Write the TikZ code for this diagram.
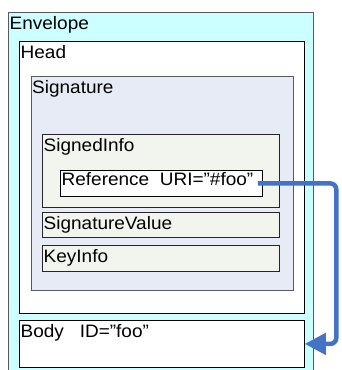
\documentclass[tikz,border=0pt]{standalone}
\usepackage{fontspec}
\setmainfont{Liberation Sans}[FakeStretch=1.055]
\usetikzlibrary{arrows.meta}

\definecolor{envcyan}{HTML}{CCFFFF}
\definecolor{siglav}{HTML}{E6EBF5}
\definecolor{infogray}{HTML}{F2F4EE}
\definecolor{linkblue}{HTML}{4472C4}

\tikzset{
  box/.style={draw, line width=0.8pt, anchor=north west, inner sep=0pt},
  lbl/.style={anchor=north west, inner xsep=1.5pt, inner ysep=4pt, text height=13pt,
    font=\fontsize{18}{21}\selectfont},
  link/.style={linkblue, line width=4.5pt, rounded corners=6pt,
    -{Triangle[width=21pt,length=21pt]}}
}

\begin{document}
\begin{tikzpicture}[x=1pt, y=-1pt]
  \useasboundingbox (0,0) rectangle (341,370);
  \node[box, draw=black!65, fill=envcyan, minimum width=305pt, minimum height=362pt,
    label={[lbl]north west:Envelope}] (envelope) at (8,12) {};
  \node[box, fill=white, minimum width=285pt, minimum height=272pt,
    label={[lbl]north west:Head}] (head) at (19,41) {};
  \node[box, draw=black!65, fill=siglav, minimum width=262.5pt, minimum height=214pt,
    label={[lbl]north west:Signature}] (signature) at (30.5,76) {};
  \node[box, draw=black!85, fill=infogray, minimum width=237pt, minimum height=73pt,
    label={[lbl]north west:SignedInfo}] (signedinfo) at (42,134) {};
  \node[box, fill=white, minimum width=202pt, minimum height=26pt,
    label={[lbl, inner ysep=2.5pt]north west:Reference\ \ URI=”\#foo”}] (ref) at (60,170) {};
  \node[box, draw=black!85, fill=infogray, minimum width=237pt, minimum height=25pt,
    label={[lbl]north west:SignatureValue}] (sigvalue) at (42,212) {};
  \node[box, draw=black!85, fill=infogray, minimum width=237pt, minimum height=26pt,
    label={[lbl]north west:KeyInfo}] (keyinfo) at (42,245) {};
  \node[box, fill=white, minimum width=285pt, minimum height=47pt,
    label={[lbl]north west:Body\ \ \ ID=”foo”}] (body) at (19,320) {};
  % reference points to the body
  \draw[link] ([xshift=-5pt]ref.east) -- ++(78.5,0) |- (body.east);
\end{tikzpicture}
\end{document}
